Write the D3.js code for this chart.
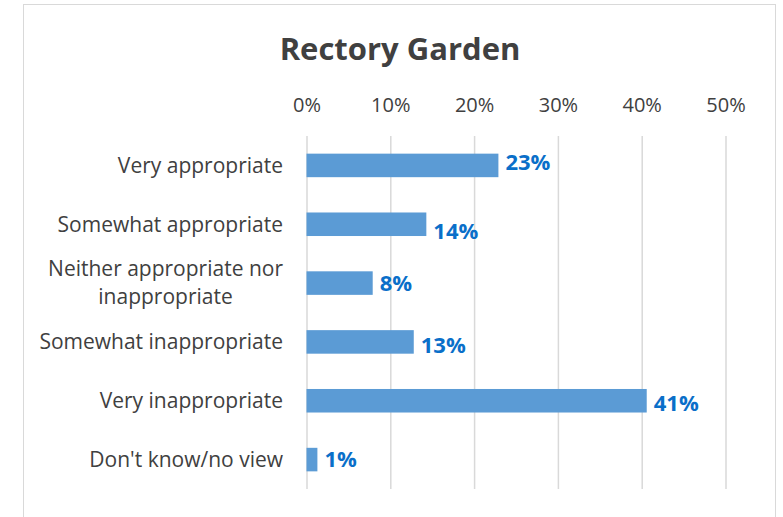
<!DOCTYPE html>
<html><head><meta charset="utf-8">
<script src="https://cdn.jsdelivr.net/npm/d3@7"></script>
<style>body{margin:0;background:#fff}svg{display:block}</style>
</head><body>
<script>
const categories = ["Very appropriate","Somewhat appropriate","Neither appropriate nor inappropriate","Somewhat inappropriate","Very inappropriate","Don't know/no view"];
const categoryLines = [["Very appropriate"],["Somewhat appropriate"],["Neither appropriate nor","inappropriate"],["Somewhat inappropriate"],["Very inappropriate"],["Don't know/no view"]];
const values = [0.229, 0.143, 0.079, 0.128, 0.406, 0.013];
const valueLabels = ["23%","14%","8%","13%","41%","1%"];
const ticks = [0,0.1,0.2,0.3,0.4,0.5];
const title = "Rectory Garden";
// small vertical nudges of the data labels, as placed in the original
const labelNudge = [-3, 7, 0, 3, 3, 0];

const W=783,H=517;
const font="'Open Sans', sans-serif";
const svg=d3.select("body").append("svg").attr("width",W).attr("height",H);
svg.append("rect").attr("x",23.5).attr("y",4.5).attr("width",752).attr("height",530).attr("fill","#fff").attr("stroke","#d9d9d9").attr("stroke-width",1);

const x=d3.scaleLinear().domain([0,0.5]).range([306.5,725.5]);
const y=d3.scaleBand().domain(categories).range([136,489]).paddingInner(0.6).paddingOuter(0.3);

svg.append("text").attr("x",400).attr("y",60).attr("text-anchor","middle").attr("font-family",font).attr("font-weight","bold").attr("font-size",31).attr("fill","#404040").text(title);

const gx=svg.append("g").attr("transform","translate(0,136)").call(d3.axisTop(x).tickValues(ticks).tickFormat(d3.format(".0%")).tickSize(-353).tickPadding(24.5));
gx.select(".domain").remove();
gx.selectAll(".tick line").attr("stroke","#d9d9d9").attr("stroke-width",1.5);
gx.selectAll(".tick text").attr("font-family",font).attr("font-size",20).attr("fill","#404040");

svg.append("g").selectAll("rect").data(categories).join("rect")
 .attr("x",x(0)).attr("y",d=>y(d)).attr("height",y.bandwidth())
 .attr("width",(d,i)=>x(values[i])-x(0)).attr("fill","#5b9bd5");

svg.append("g").selectAll("text").data(categories).join("text")
 .attr("x",(d,i)=>x(values[i])+7).attr("y",(d,i)=>y(d)+y.bandwidth()/2+labelNudge[i]).attr("dy","0.35em")
 .attr("font-family",font).attr("font-weight","bold").attr("font-size",22).attr("fill","#0a6fc9")
 .text((d,i)=>valueLabels[i]);

const cg=svg.append("g");
categories.forEach((c,i)=>{
  const lines=categoryLines[i];
  const cy=y(c)+y.bandwidth()/2;
  const lh=28;
  const t=cg.append("text").attr("font-family",font).attr("font-size",21).attr("fill","#404040").attr("text-anchor","middle");
  lines.forEach((l,j)=>{
    t.append("tspan").attr("x",0).attr("y",cy+(j-(lines.length-1)/2)*lh).attr("dy","0.35em").text(l);
  });
  let mw=0; t.selectAll("tspan").each(function(){mw=Math.max(mw,this.getComputedTextLength());});
  t.selectAll("tspan").attr("x",283-mw/2);
});
</script>
</body></html>
